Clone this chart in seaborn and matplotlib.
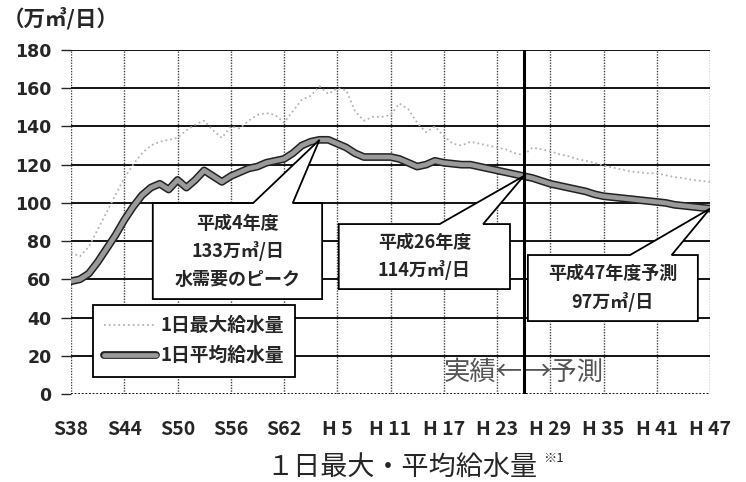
import numpy as np
import seaborn as sns
import matplotlib.pyplot as plt
import matplotlib.patheffects as pe
from matplotlib.patches import Polygon

# 年度 (S38=1963 ... H47=2035)
years = list(range(1963, 2036))

# 1日最大給水量 (万m3/日)
max_supply = [74, 72, 77, 86, 95, 104, 113, 120, 126, 130,
              132, 133, 134, 138, 141, 143, 138, 134, 140, 139,
              143, 146, 147, 146, 142, 148, 154, 156, 161, 157,
              160, 159, 148, 143, 145, 145, 146, 152, 149, 142,
              137, 140, 135, 131, 130, 132, 131, 130, 129, 128,
              126, 125, 129, 128, 127, 125.5, 124.5, 123, 122, 121,
              119.5, 118.5, 117.5, 116.5, 116, 115.5, 115.5, 114.5, 113.5, 113,
              112, 111.5, 111]

# 1日平均給水量 (万m3/日)
avg_supply = [59, 60, 63, 69, 76, 83, 91, 98, 104, 108,
              110, 107, 112, 108, 112, 117, 114, 111, 114, 116,
              118, 119, 121, 122, 123, 126, 130, 132, 133, 133,
              131, 129, 126, 124, 124, 124, 124, 123, 121, 119,
              120, 122, 121, 120.5, 120, 120, 119, 118, 117, 116,
              115, 114, 113, 111.5, 110, 109, 108, 107, 106, 104.5,
              103.5, 103, 102.5, 102, 101.5, 101, 100.5, 100, 99, 98.5,
              98, 97.5, 97]

tick_years = [1963, 1969, 1975, 1981, 1987, 1993, 1999, 2005, 2011, 2017, 2023, 2029, 2035]
tick_labels = ["S38", "S44", "S50", "S56", "S62", "H 5", "H 11", "H 17",
               "H 23", "H 29", "H 35", "H 41", "H 47"]
split_year = 2014   # 実績 / 予測 の境目
forecast_year = 2035

sns.set_style("white")
plt.rcParams['font.family'] = ['Noto Sans CJK JP', 'DejaVu Sans']
jp = ['Noto Sans CJK JP', 'DejaVu Sans']

fig = plt.figure(figsize=(7.46, 4.82), dpi=100)
ax = fig.add_axes([71 / 746, 1 - 394 / 482, 639 / 746, 344 / 482])

sns.lineplot(x=years, y=max_supply, ax=ax, color="#b4b4b4", linestyle=":",
             linewidth=1.3, label="1日最大給水量", zorder=3)
sns.lineplot(x=years, y=avg_supply, ax=ax, color="#9a9a9a", linewidth=3.4,
             label="1日平均給水量", zorder=4,
             path_effects=[pe.Stroke(linewidth=5.6, foreground="#222222"), pe.Normal()])

ax.set_xlim(1963, 2035)
ax.set_ylim(0, 180)
ax.set_yticks(range(0, 181, 20))
ax.set_xticks(tick_years)
ax.set_xticklabels(tick_labels)
ax.set_xlabel("")
ax.set_ylabel("")
for s in ax.spines.values():
    s.set_visible(False)

ax.yaxis.grid(True, color="black", linewidth=1.3, linestyle="-")
ax.xaxis.grid(True, color="#444444", linewidth=1.0, linestyle=(0, (1, 1)))
ax.get_ygridlines()[0].set_linestyle((0, (1, 1)))
ax.set_axisbelow(True)
ax.axvline(split_year, color="black", linewidth=2.2, zorder=5.5)

ax.tick_params(axis="y", direction="out", length=7, width=1, pad=7, left=True)
ax.tick_params(axis="x", length=0, pad=19)
for t in ax.get_yticklabels():
    t.set_fontfamily(['DejaVu Sans'])
    t.set_fontweight("bold")
    t.set_fontsize(12.5)
for t in ax.get_xticklabels():
    t.set_fontfamily(jp)
    t.set_fontweight("bold")
    t.set_fontsize(14)

leg = ax.legend(loc="lower left", bbox_to_anchor=(0.019, 0.023), frameon=True,
                fancybox=False, edgecolor="black", framealpha=1, handlelength=2.8,
                handletextpad=0.2, borderpad=0.6, labelspacing=0.6,
                prop={"family": jp, "size": 13.5, "weight": "bold"})
leg.get_frame().set_linewidth(1.3)
leg.set_zorder(6)

to_axes = ax.transData + ax.transAxes.inverted()


def callout(box, base, tip, text):
    x0, y0, x1, y1 = box
    tx, ty = to_axes.transform(tip)
    pts = [(x0, y0), (x1, y0), (x1, y1), (base[1], y1), (tx, ty), (base[0], y1), (x0, y1)]
    ax.add_patch(Polygon(pts, closed=True, transform=ax.transAxes, facecolor="white",
                         edgecolor="black", linewidth=1.3, zorder=7))
    ax.text((x0 + x1) / 2, (y0 + y1) / 2, text, transform=ax.transAxes, ha="center",
            va="center", fontsize=13, fontweight="bold", linespacing=1.55, zorder=8,
            family=jp)


peak_i = int(np.argmax(avg_supply))
split_i = years.index(split_year)
fc_i = years.index(forecast_year)
callout((0.128, 0.276, 0.393, 0.555), (0.285, 0.347), (years[peak_i], avg_supply[peak_i]),
        "平成4年度\n133万㎥/日\n水需要のピーク")
callout((0.419, 0.305, 0.687, 0.494), (0.577, 0.645), (years[split_i], avg_supply[split_i]),
        "平成26年度\n114万㎥/日")
callout((0.715, 0.212, 0.981, 0.404), (0.875, 0.940), (years[fc_i], avg_supply[fc_i]),
        "平成47年度予測\n97万㎥/日")

ax.text(split_year - 0.15, 11.5, "実績←", ha="right", va="center", fontsize=19,
        color="#555555", family=jp, zorder=5)
ax.text(split_year + 0.15, 11.5, "→予測", ha="left", va="center", fontsize=19,
        color="#555555", family=jp, zorder=5)

fig.text(3 / 746, 1 - 18 / 482, "（万㎥/日）", ha="left", va="center", fontsize=15.5,
         fontweight="bold", family=jp)
fig.text(266 / 746, 1 - 467 / 482, "１日最大・平均給水量", ha="left", va="center",
         fontsize=19.5, family=jp)
fig.text(543 / 746, 1 - 458 / 482, "※1", ha="left", va="center", fontsize=9.5, family=jp)

fig.savefig("out.png", dpi=100)
